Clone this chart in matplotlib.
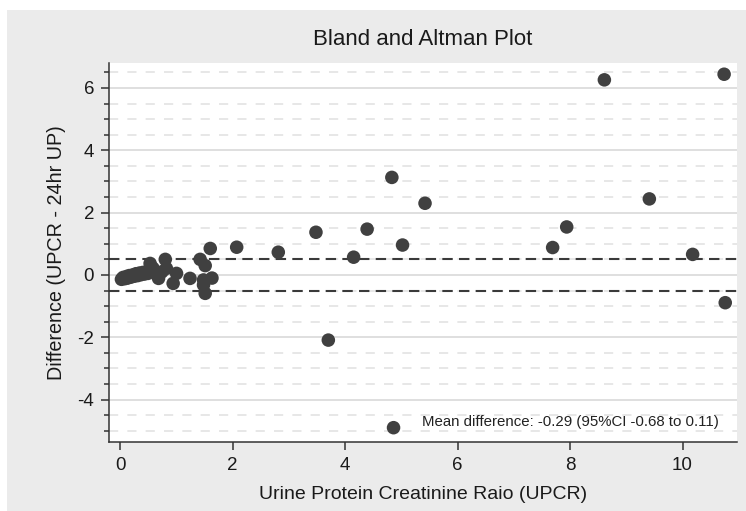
import matplotlib
matplotlib.use('Agg')
import matplotlib.pyplot as plt
from matplotlib.patches import Rectangle
from matplotlib.ticker import MultipleLocator

plt.rcParams['font.family'] = ['Liberation Sans', 'DejaVu Sans']
plt.rcParams['axes.unicode_minus'] = False

# mean of UPCR and 24hr UP (x) vs. difference (y)
upcr_mean = [0.02, 0.05, 0.08, 0.11, 0.13, 0.16, 0.19, 0.22, 0.25, 0.28, 0.31, 0.34,
             0.37, 0.40, 0.43, 0.46, 0.49, 0.52, 0.55, 0.58,
             0.53, 0.68, 0.74, 0.80, 0.82, 0.94, 1.00, 1.24, 1.42, 1.51, 1.60, 1.63,
             1.48, 1.48, 1.51, 2.07, 2.81, 3.48, 3.70, 4.15, 4.39, 4.83, 4.86, 5.02,
             5.42, 7.69, 7.94, 8.61, 9.41, 10.18, 10.74, 10.76]
difference = [-0.14, -0.08, -0.12, -0.05, -0.10, -0.02, -0.07, 0.00, -0.04, 0.04, -0.02, 0.06,
              0.01, 0.08, 0.03, 0.10, 0.05, 0.12, 0.15, 0.22,
              0.37, -0.11, 0.10, 0.50, 0.21, -0.27, 0.05, -0.11, 0.50, 0.30, 0.85, -0.10,
              -0.16, -0.32, -0.59, 0.89, 0.73, 1.37, -2.09, 0.57, 1.47, 3.13, -4.90, 0.96,
              2.30, 0.88, 1.54, 6.26, 2.44, 0.66, 6.44, -0.89]

limit_lines = [0.5, -0.5]
note = 'Mean difference: -0.29 (95%CI -0.68 to 0.11)'

fig = plt.figure(figsize=(7.46, 5.11), dpi=100)
fig.patch.set_facecolor('white')
fig.patches.append(Rectangle((7 / 746, 0), 1, 1 - 10 / 511, transform=fig.transFigure,
                             facecolor='#ebebeb', edgecolor='none', zorder=-10))

ax = fig.add_axes([0.1465, 0.1356, 0.8415, 0.7417])
ax.set_facecolor('white')

ax.yaxis.set_major_locator(MultipleLocator(2))
ax.yaxis.set_minor_locator(MultipleLocator(0.5))
ax.xaxis.set_major_locator(MultipleLocator(2))
ax.grid(which='major', axis='y', color='#d6d6d6', linewidth=1.1, zorder=1)
ax.grid(which='minor', axis='y', color='#e0e0e0', linewidth=1.1,
        linestyle=(0, (6, 6)), zorder=1)

for v in limit_lines:
    ax.axhline(v, color='#3a3a3a', linewidth=1.5, linestyle=(0, (5, 3)), zorder=2)

ax.scatter(upcr_mean, difference, s=95, color='#404040', edgecolors='none', zorder=3)

ax.text(5.37, -4.71, note, fontsize=10.8, color='#222222', va='center', ha='left')

ax.set_xlim(-0.196, 10.97)
ax.set_ylim(-5.35, 6.81)

for s in ['top', 'right']:
    ax.spines[s].set_visible(False)
for s in ['left', 'bottom']:
    ax.spines[s].set_color('#333333')
    ax.spines[s].set_linewidth(1.1)

ax.tick_params(which='major', length=6, width=1.1, color='#333333', labelsize=13.5,
               labelcolor='#1a1a1a', pad=5)
ax.tick_params(which='minor', axis='y', length=3.5, width=1.1, color='#333333')

ax.set_title('Bland and Altman Plot', fontsize=16, color='#1a1a1a', pad=13)
ax.set_xlabel('Urine Protein Creatinine Raio (UPCR)', fontsize=14, color='#1a1a1a',
              labelpad=9)
ax.set_ylabel('Difference (UPCR - 24hr UP)', fontsize=14.2, color='#1a1a1a', labelpad=8)

fig.savefig('out.png', dpi=100)
